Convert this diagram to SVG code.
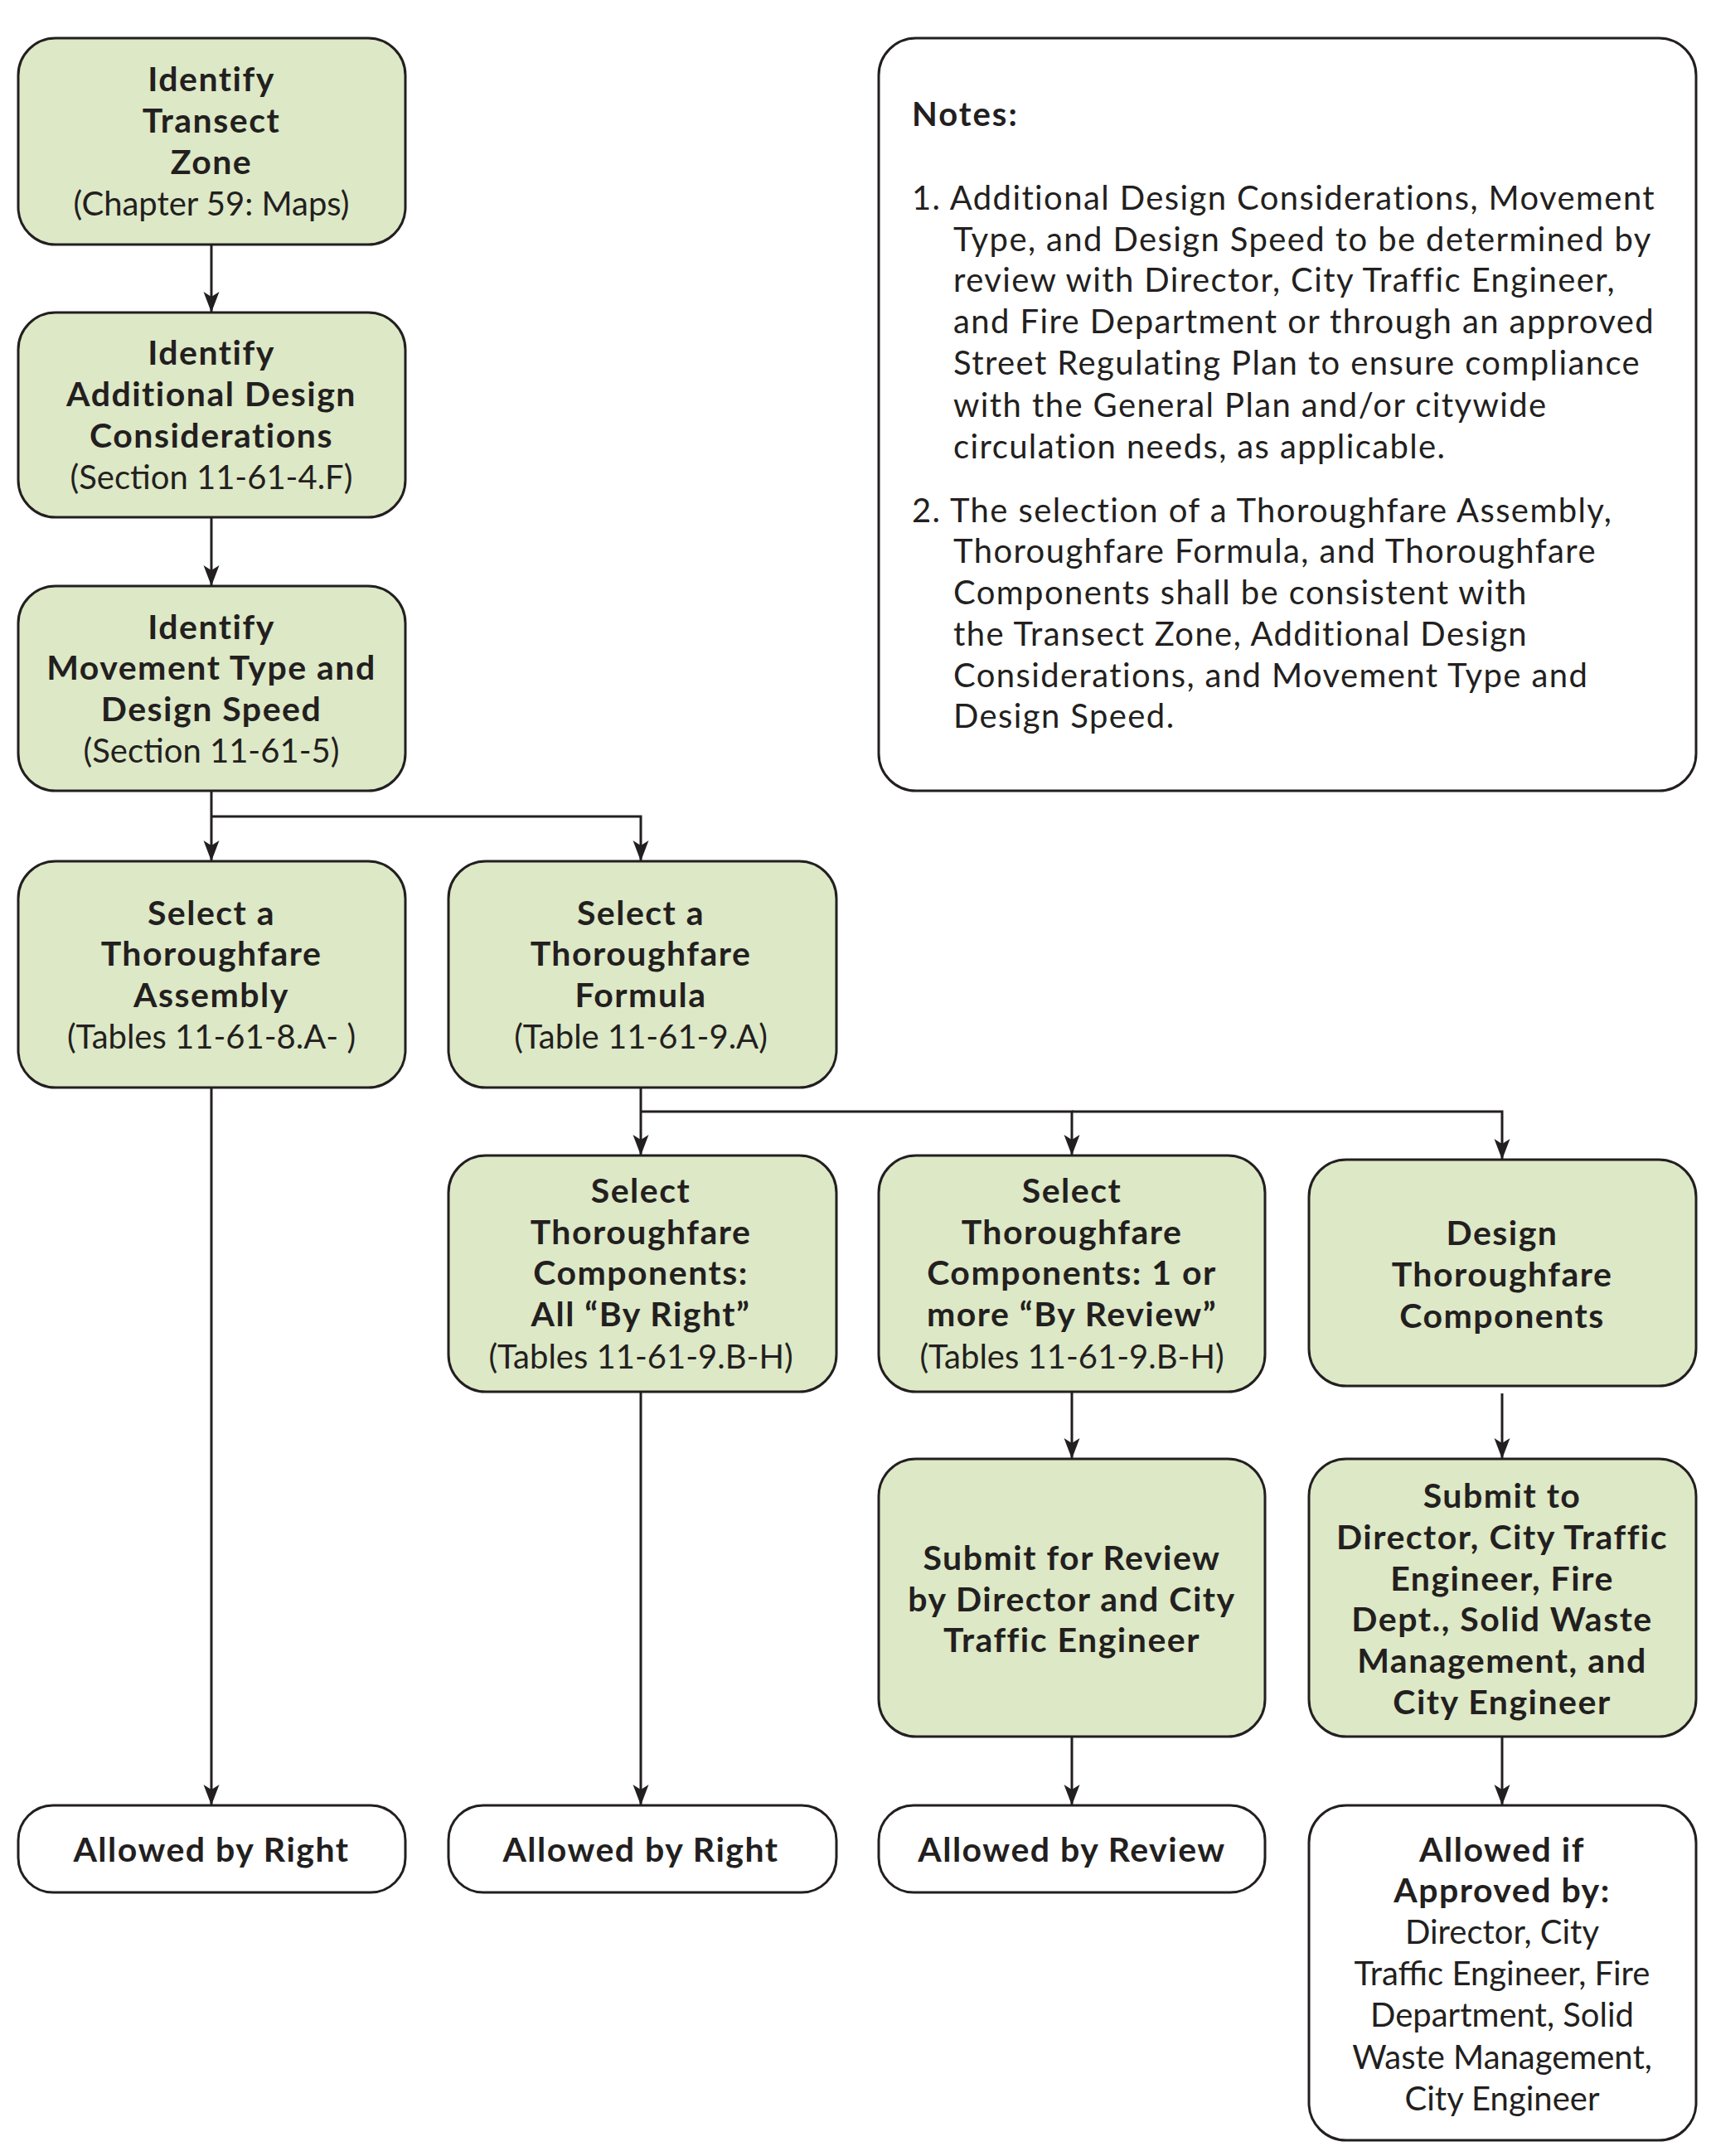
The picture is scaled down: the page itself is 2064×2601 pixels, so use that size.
<svg xmlns="http://www.w3.org/2000/svg" width="2064" height="2601" viewBox="0 0 2064 2601">
<style>
.box{fill:#dde8c6;stroke:#231f20;stroke-width:3}
.wbox{fill:#ffffff;stroke:#231f20;stroke-width:3}
.t{font-family:Lato,"Liberation Sans",sans-serif;font-size:41px;fill:#231f20;text-anchor:middle;font-weight:700;letter-spacing:1.5px}
.r{font-weight:400;letter-spacing:0px;font-size:40px}
.n{font-family:Lato,"Liberation Sans",sans-serif;font-size:40px;fill:#231f20;font-weight:400;letter-spacing:1.4px}
.nb{font-weight:700;letter-spacing:2px}
.c{stroke:#231f20;stroke-width:3;fill:none}
</style>
<defs>
<marker id="arr" viewBox="-26 -10 27 20" refX="0" refY="0" markerWidth="27" markerHeight="20" markerUnits="userSpaceOnUse" orient="auto">
<path d="M0,0 L-25,-9.5 L-19,0 L-25,9.5 Z" fill="#231f20"/>
</marker>
</defs>
<rect width="2064" height="2601" fill="#ffffff"/>
<g id="connectors">
<path class="c" d="M255,295 V377" marker-end="url(#arr)"/>
<path class="c" d="M255,624 V707" marker-end="url(#arr)"/>
<path class="c" d="M255,954 V1039" marker-end="url(#arr)"/>
<path class="c" d="M255,985 H773 V1039" marker-end="url(#arr)"/>
<path class="c" d="M773,1312 V1394" marker-end="url(#arr)"/>
<path class="c" d="M773,1341 H1293 V1394" marker-end="url(#arr)"/>
<path class="c" d="M1293,1341 H1812 V1399" marker-end="url(#arr)"/>
<path class="c" d="M255,1312 V2178" marker-end="url(#arr)"/>
<path class="c" d="M773,1679 V2178" marker-end="url(#arr)"/>
<path class="c" d="M1293,1679 V1760" marker-end="url(#arr)"/>
<path class="c" d="M1812,1681 V1760" marker-end="url(#arr)"/>
<path class="c" d="M1293,2095 V2178" marker-end="url(#arr)"/>
<path class="c" d="M1812,2095 V2178" marker-end="url(#arr)"/>
</g>
<g id="identify-transect">
<rect class="box" x="22" y="46" width="467" height="249" rx="45"/>
<text class="t" x="255" y="110">Identify</text>
<text class="t" x="255" y="160">Transect</text>
<text class="t" x="255" y="210">Zone</text>
<text class="t r" x="255" y="260">(Chapter 59: Maps)</text>
</g>
<g id="identify-additional">
<rect class="box" x="22" y="377" width="467" height="247" rx="45"/>
<text class="t" x="255" y="440">Identify</text>
<text class="t" x="255" y="490">Additional Design</text>
<text class="t" x="255" y="540">Considerations</text>
<text class="t r" x="255" y="590">(Section 11-61-4.F)</text>
</g>
<g id="identify-movement">
<rect class="box" x="22" y="707" width="467" height="247" rx="45"/>
<text class="t" x="255" y="771">Identify</text>
<text class="t" x="255" y="820">Movement Type and</text>
<text class="t" x="255" y="870">Design Speed</text>
<text class="t r" x="255" y="920">(Section 11-61-5)</text>
</g>
<g id="select-assembly">
<rect class="box" x="22" y="1039" width="467" height="273" rx="45"/>
<text class="t" x="255" y="1116">Select a</text>
<text class="t" x="255" y="1165">Thoroughfare</text>
<text class="t" x="255" y="1215">Assembly</text>
<text class="t r" x="255" y="1265">(Tables 11-61-8.A- )</text>
</g>
<g id="select-formula">
<rect class="box" x="541" y="1039" width="468" height="273" rx="45"/>
<text class="t" x="773" y="1116">Select a</text>
<text class="t" x="773" y="1165">Thoroughfare</text>
<text class="t" x="773" y="1215">Formula</text>
<text class="t r" x="773" y="1265">(Table 11-61-9.A)</text>
</g>
<g id="components-by-right">
<rect class="box" x="541" y="1394" width="468" height="285" rx="45"/>
<text class="t" x="773" y="1451">Select</text>
<text class="t" x="773" y="1501">Thoroughfare</text>
<text class="t" x="773" y="1550">Components:</text>
<text class="t" x="773" y="1600">All “By Right”</text>
<text class="t r" x="773" y="1651">(Tables 11-61-9.B-H)</text>
</g>
<g id="components-by-review">
<rect class="box" x="1060" y="1394" width="466" height="285" rx="45"/>
<text class="t" x="1293" y="1451">Select</text>
<text class="t" x="1293" y="1501">Thoroughfare</text>
<text class="t" x="1293" y="1550">Components: 1 or</text>
<text class="t" x="1293" y="1600">more “By Review”</text>
<text class="t r" x="1293" y="1651">(Tables 11-61-9.B-H)</text>
</g>
<g id="design-components">
<rect class="box" x="1579" y="1399" width="467" height="273" rx="45"/>
<text class="t" x="1812" y="1502">Design</text>
<text class="t" x="1812" y="1552">Thoroughfare</text>
<text class="t" x="1812" y="1602">Components</text>
</g>
<g id="submit-review">
<rect class="box" x="1060" y="1760" width="466" height="335" rx="45"/>
<text class="t" x="1293" y="1894">Submit for Review</text>
<text class="t" x="1293" y="1944">by Director and City</text>
<text class="t" x="1293" y="1993">Traffic Engineer</text>
</g>
<g id="submit-director">
<rect class="box" x="1579" y="1760" width="467" height="335" rx="45"/>
<text class="t" x="1812" y="1819">Submit to</text>
<text class="t" x="1812" y="1869">Director, City Traffic</text>
<text class="t" x="1812" y="1919">Engineer, Fire</text>
<text class="t" x="1812" y="1968">Dept., Solid Waste</text>
<text class="t" x="1812" y="2018">Management, and</text>
<text class="t" x="1812" y="2068">City Engineer</text>
</g>
<g id="allowed-right-1">
<rect class="wbox" x="22" y="2178" width="467" height="105" rx="42"/>
<text class="t" x="255" y="2246">Allowed by Right</text>
</g>
<g id="allowed-right-2">
<rect class="wbox" x="541" y="2178" width="468" height="105" rx="42"/>
<text class="t" x="773" y="2246">Allowed by Right</text>
</g>
<g id="allowed-review">
<rect class="wbox" x="1060" y="2178" width="466" height="105" rx="42"/>
<text class="t" x="1293" y="2246">Allowed by Review</text>
</g>
<g id="allowed-approved">
<rect class="wbox" x="1579" y="2178" width="467" height="404" rx="45"/>
<text class="t" x="1812" y="2246">Allowed if</text>
<text class="t" x="1812" y="2295">Approved by:</text>
<text class="t r" x="1812" y="2345">Director, City</text>
<text class="t r" x="1812" y="2395">Traffic Engineer, Fire</text>
<text class="t r" x="1812" y="2445">Department, Solid</text>
<text class="t r" x="1812" y="2496">Waste Management,</text>
<text class="t r" x="1812" y="2546">City Engineer</text>
</g>
<g id="notes">
<rect class="wbox" x="1060" y="46" width="986" height="908" rx="45"/>
<text class="n nb" x="1100" y="152">Notes:</text>
<text class="n" x="1100" y="253">1. Additional Design Considerations, Movement</text>
<text class="n" x="1150" y="303">Type, and Design Speed to be determined by</text>
<text class="n" x="1150" y="352">review with Director, City Traffic Engineer,</text>
<text class="n" x="1150" y="402">and Fire Department or through an approved</text>
<text class="n" x="1150" y="452">Street Regulating Plan to ensure compliance</text>
<text class="n" x="1150" y="503">with the General Plan and/or citywide</text>
<text class="n" x="1150" y="553">circulation needs, as applicable.</text>
<text class="n" x="1100" y="630">2. The selection of a Thoroughfare Assembly,</text>
<text class="n" x="1150" y="679">Thoroughfare Formula, and Thoroughfare</text>
<text class="n" x="1150" y="729">Components shall be consistent with</text>
<text class="n" x="1150" y="779">the Transect Zone, Additional Design</text>
<text class="n" x="1150" y="829">Considerations, and Movement Type and</text>
<text class="n" x="1150" y="878">Design Speed.</text>
</g>
</svg>
